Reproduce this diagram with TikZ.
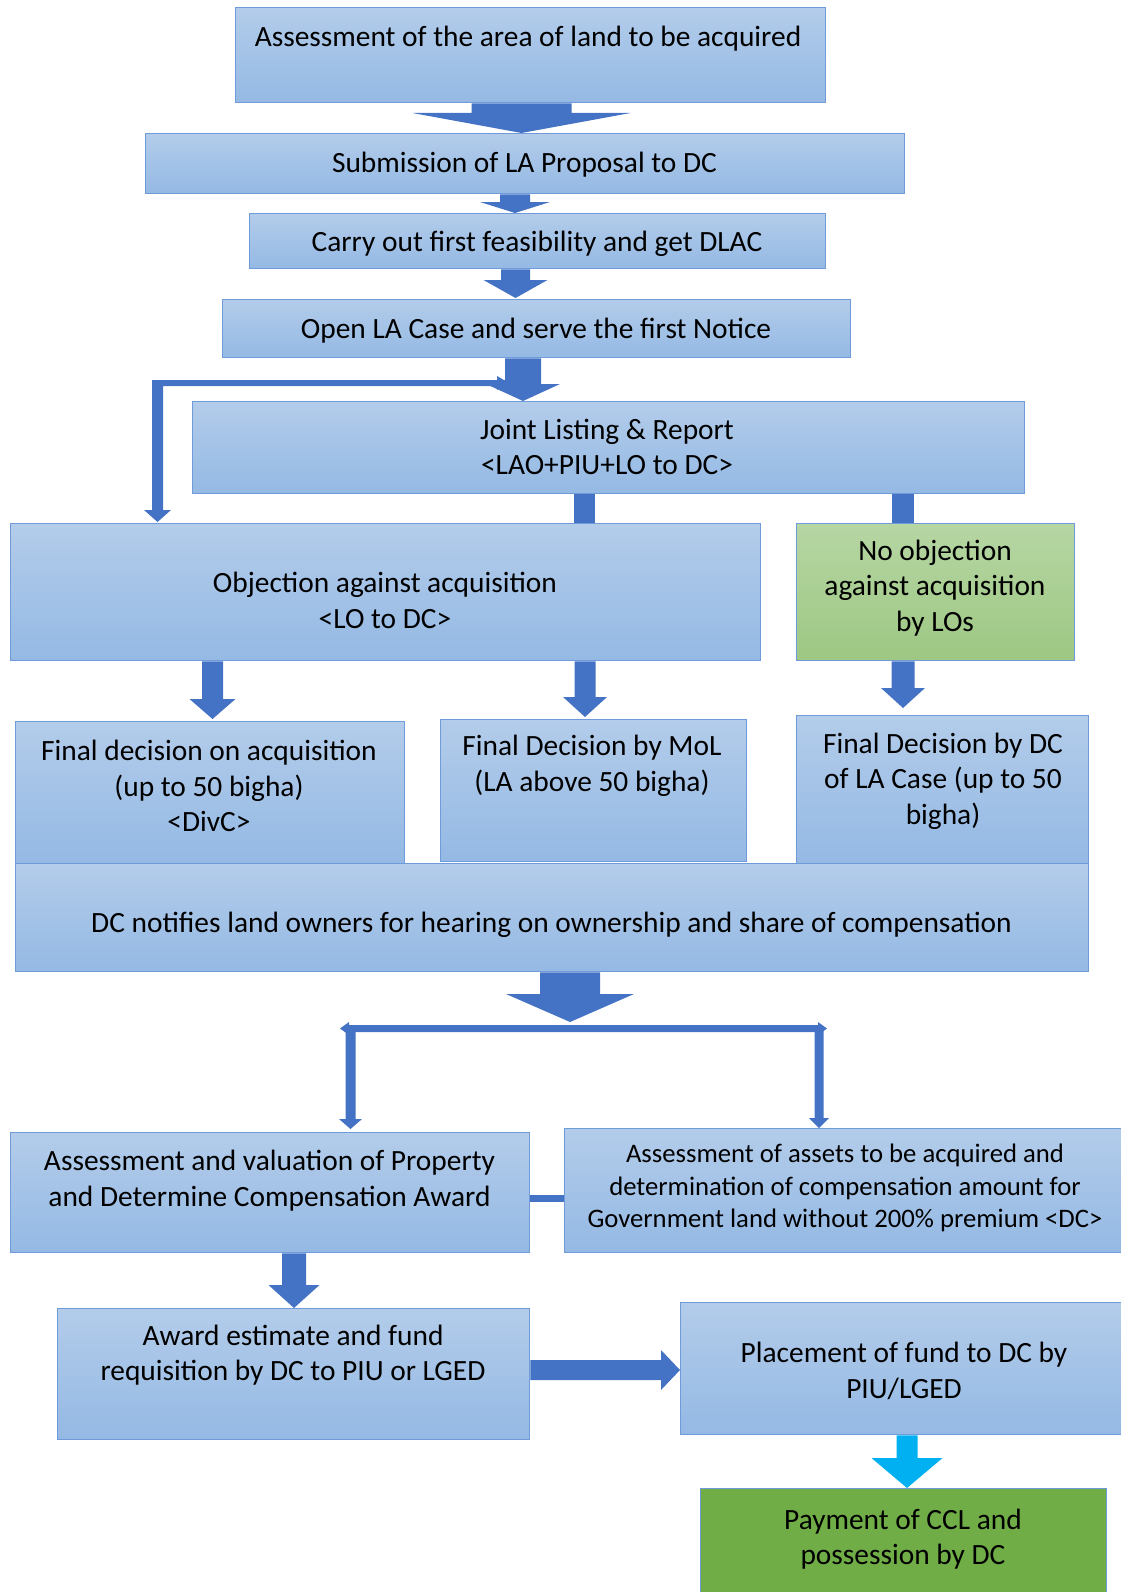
\documentclass[tikz,border=0pt]{standalone}
\usepackage{fontspec}
\setmainfont{Carlito}
\usetikzlibrary{calc}
\definecolor{arrowblue}{HTML}{4472C4}
\definecolor{cyanarrow}{HTML}{00B0F0}
\definecolor{boxline}{HTML}{6F9BDB}
\definecolor{boxtop}{HTML}{B3CCEA}
\definecolor{boxbot}{HTML}{94B9E4}
\definecolor{gtop}{HTML}{B6D6A3}
\definecolor{gbot}{HTML}{9DC783}
\definecolor{dgreen}{HTML}{70AD47}
\newcommand\mainsize{\fontsize{29.4}{35.5}\selectfont}
\newcommand\smallsize{\fontsize{26.7}{32.5}\selectfont}
% block arrow pointing down: [colour]{x centre}{from}{to}{shaft half width}{head half width}{head length}
\newcommand\blkdn[7][arrowblue]{%
  \fill[#1] let \p1=(#3), \p2=(#4) in
   (#2pt-#5pt,\y1) -- (#2pt+#5pt,\y1) -- (#2pt+#5pt,\y2+#7pt) -- (#2pt+#6pt,\y2+#7pt)
   -- (#2pt,\y2) -- (#2pt-#6pt,\y2+#7pt) -- (#2pt-#5pt,\y2+#7pt) -- cycle;}
\tikzset{
  box/.style={draw=boxline, line width=1.4pt, top color=boxtop, bottom color=boxbot,
              inner sep=0pt, anchor=north west},
  gbox/.style={box, top color=gtop, bottom color=gbot},
  dgbox/.style={draw=boxline, line width=1.4pt, fill=dgreen, inner sep=0pt, anchor=north west},
  txt/.style={inner sep=0pt, align=center, font=\mainsize},
  stxt/.style={inner sep=0pt, align=center, font=\smallsize},
  bar/.style={draw=arrowblue},
}
\begin{document}
\begin{tikzpicture}[x=1pt,y=-1pt]
\useasboundingbox (0,0) rectangle (1120,1592);

% boxes
\node[box, minimum width=590pt, minimum height=95pt] (b1) at (235,7) {};
\node[box, minimum width=759pt, minimum height=60pt] (b2) at (145,133) {};
\node[box, minimum width=576pt, minimum height=55pt] (b3) at (249,213) {};
\node[box, minimum width=628pt, minimum height=58pt] (b4) at (222,299) {};
\node[box, minimum width=832pt, minimum height=92pt] (b5) at (192,401) {};
\node[box, minimum width=750pt, minimum height=137pt] (b6) at (10,523) {};
\node[gbox, minimum width=278pt, minimum height=137pt] (b6g) at (796,523) {};
\node[box, minimum width=389pt, minimum height=142pt] (b7) at (15,721) {};
\node[box, minimum width=306pt, minimum height=142pt] (b8) at (440,719) {};
\node[box, minimum width=292pt, minimum height=148pt] (b9) at (796,715) {};
\node[box, minimum width=1073pt, minimum height=108pt] (b10) at (15,863) {};
\node[box, minimum width=519pt, minimum height=120pt] (b11) at (10,1132) {};
\node[box, minimum width=560pt, minimum height=124pt] (b12) at (564,1128) {};
\node[box, minimum width=472pt, minimum height=131pt] (b13) at (57,1308) {};
\node[box, minimum width=444pt, minimum height=132pt] (b14) at (680,1302) {};
\node[dgbox, minimum width=406pt, minimum height=120pt] (b15) at (700,1488) {};

% texts
\node[txt] (t1) at (528,39) {Assessment of the area of land to be acquired};
\node[txt] (t2) at (524.5,164.5) {Submission of LA Proposal to DC};
\node[txt] (t3) at (537,243.5) {Carry out first feasibility and get DLAC};
\node[txt] (t4) at (536,331) {Open LA Case and serve the first Notice};
\node[txt] (t5) at (607,447) {Joint Listing \& Report\\<LAO+PIU+LO to DC>};
\node[txt] (t6) at (385,600.5) {Objection against acquisition\\<LO to DC>};
\node[txt] (t6g) at (935,588) {No objection\\against acquisition\\by LOs};
\node[txt] (t7) at (209,786) {Final decision on acquisition\\(up to 50 bigha)\\<DivC>};
\node[txt] (t8) at (592,766) {Final Decision by MoL\\(LA above 50 bigha)};
\node[txt] (t9) at (943,781) {Final Decision by DC\\of LA Case (up to 50\\bigha)};
\node[txt] (t10) at (551.5,925) {DC notifies land owners for hearing on ownership and share of compensation};
\node[txt] (t11) at (269.5,1180.5) {Assessment and valuation of Property\\and Determine Compensation Award};
\node[stxt] (t12) at (845,1188) {Assessment of assets to be acquired and\\determination of compensation amount for\\Government land without 200\% premium <DC>};
\node[txt] (t13) at (293,1355) {Award estimate and fund\\requisition by DC to PIU or LGED};
\node[txt] (t14) at (904,1371) {Placement of fund to DC by\\PIU/LGED};
\node[txt] (t15) at (903,1539) {Payment of CCL and\\possession by DC};

% helper coordinates
\coordinate (c1) at (584,0);
\coordinate (c2) at (903,0);
\coordinate (hb) at (570,1022);
\coordinate (jL) at (350.5,1028);
\coordinate (jR) at (819,1028);
\coordinate (cy) at (0,1198.5);

% bent connector from the first notice arrow to the objection box
\fill[arrowblue] let \p1=(b6.north) in
  (152,380) -- (505,380) -- (505,386) -- (163,386) -- (163,\y1+13pt)
  -- (171,\y1+13pt) -- (157.5,\y1+1pt) -- (144,\y1+13pt) -- (152,\y1+13pt) -- cycle;
\fill[arrowblue] (497,376) -- (509,383) -- (497,390) -- cycle;

% straight block arrows
\blkdn{521.5}{b1.south}{b2.north}{50}{109}{20}
\blkdn{515}{b2.south}{b3.north}{15}{35}{11}
\blkdn{515.5}{b3.south}{$(b4.north)+(0,-1)$}{14.5}{32}{18}
\blkdn{523}{b4.south}{b5.north}{18}{37}{17}

% connectors from joint listing
\draw[bar, line width=21pt] (c1 |- b5.south) -- (c1 |- b6.north);
\draw[bar, line width=22pt] (c2 |- b5.south) -- (c2 |- b6g.north);

\blkdn{212.5}{b6.south}{$(b7.north)+(0,-2)$}{10.5}{23}{20}
\blkdn{585}{b6.south}{$(b8.north)+(0,-2)$}{10.5}{22}{20}
\blkdn{903}{b6g.south}{$(b9.north)+(0,-7)$}{11.5}{22}{20}

% big arrow and split
\blkdn{570}{b10.south}{hb}{30}{64}{28}
\fill[arrowblue] (340,1028.5) -- (349,1022) -- (349,1025) -- (818,1025) -- (818,1022)
  -- (827,1028.5) -- (818,1035) -- (818,1032) -- (349,1032) -- (349,1035) -- cycle;
\blkdn{350.5}{jL}{$(b11.north)+(0,-3)$}{5}{11.5}{10}
\blkdn{819}{jR}{b12.north}{4.5}{10}{10}

% link between the two assessment boxes
\draw[bar, line width=7pt] (b11.east |- cy) -- (b12.west |- cy);

% lower arrows
\blkdn{294}{b11.south}{b13.north}{12}{25.5}{23}
\fill[arrowblue] let \p1=(b13.east), \p2=(b14.west) in
  (\x1,-1360pt) -- (\x2-19pt,-1360pt) -- (\x2-19pt,-1350pt) -- (\x2,-1370pt)
  -- (\x2-19pt,-1390pt) -- (\x2-19pt,-1380pt) -- (\x1,-1380pt) -- cycle;
\blkdn[cyanarrow]{907}{b14.south}{b15.north}{10.5}{35.5}{30}
\end{tikzpicture}
\end{document}
